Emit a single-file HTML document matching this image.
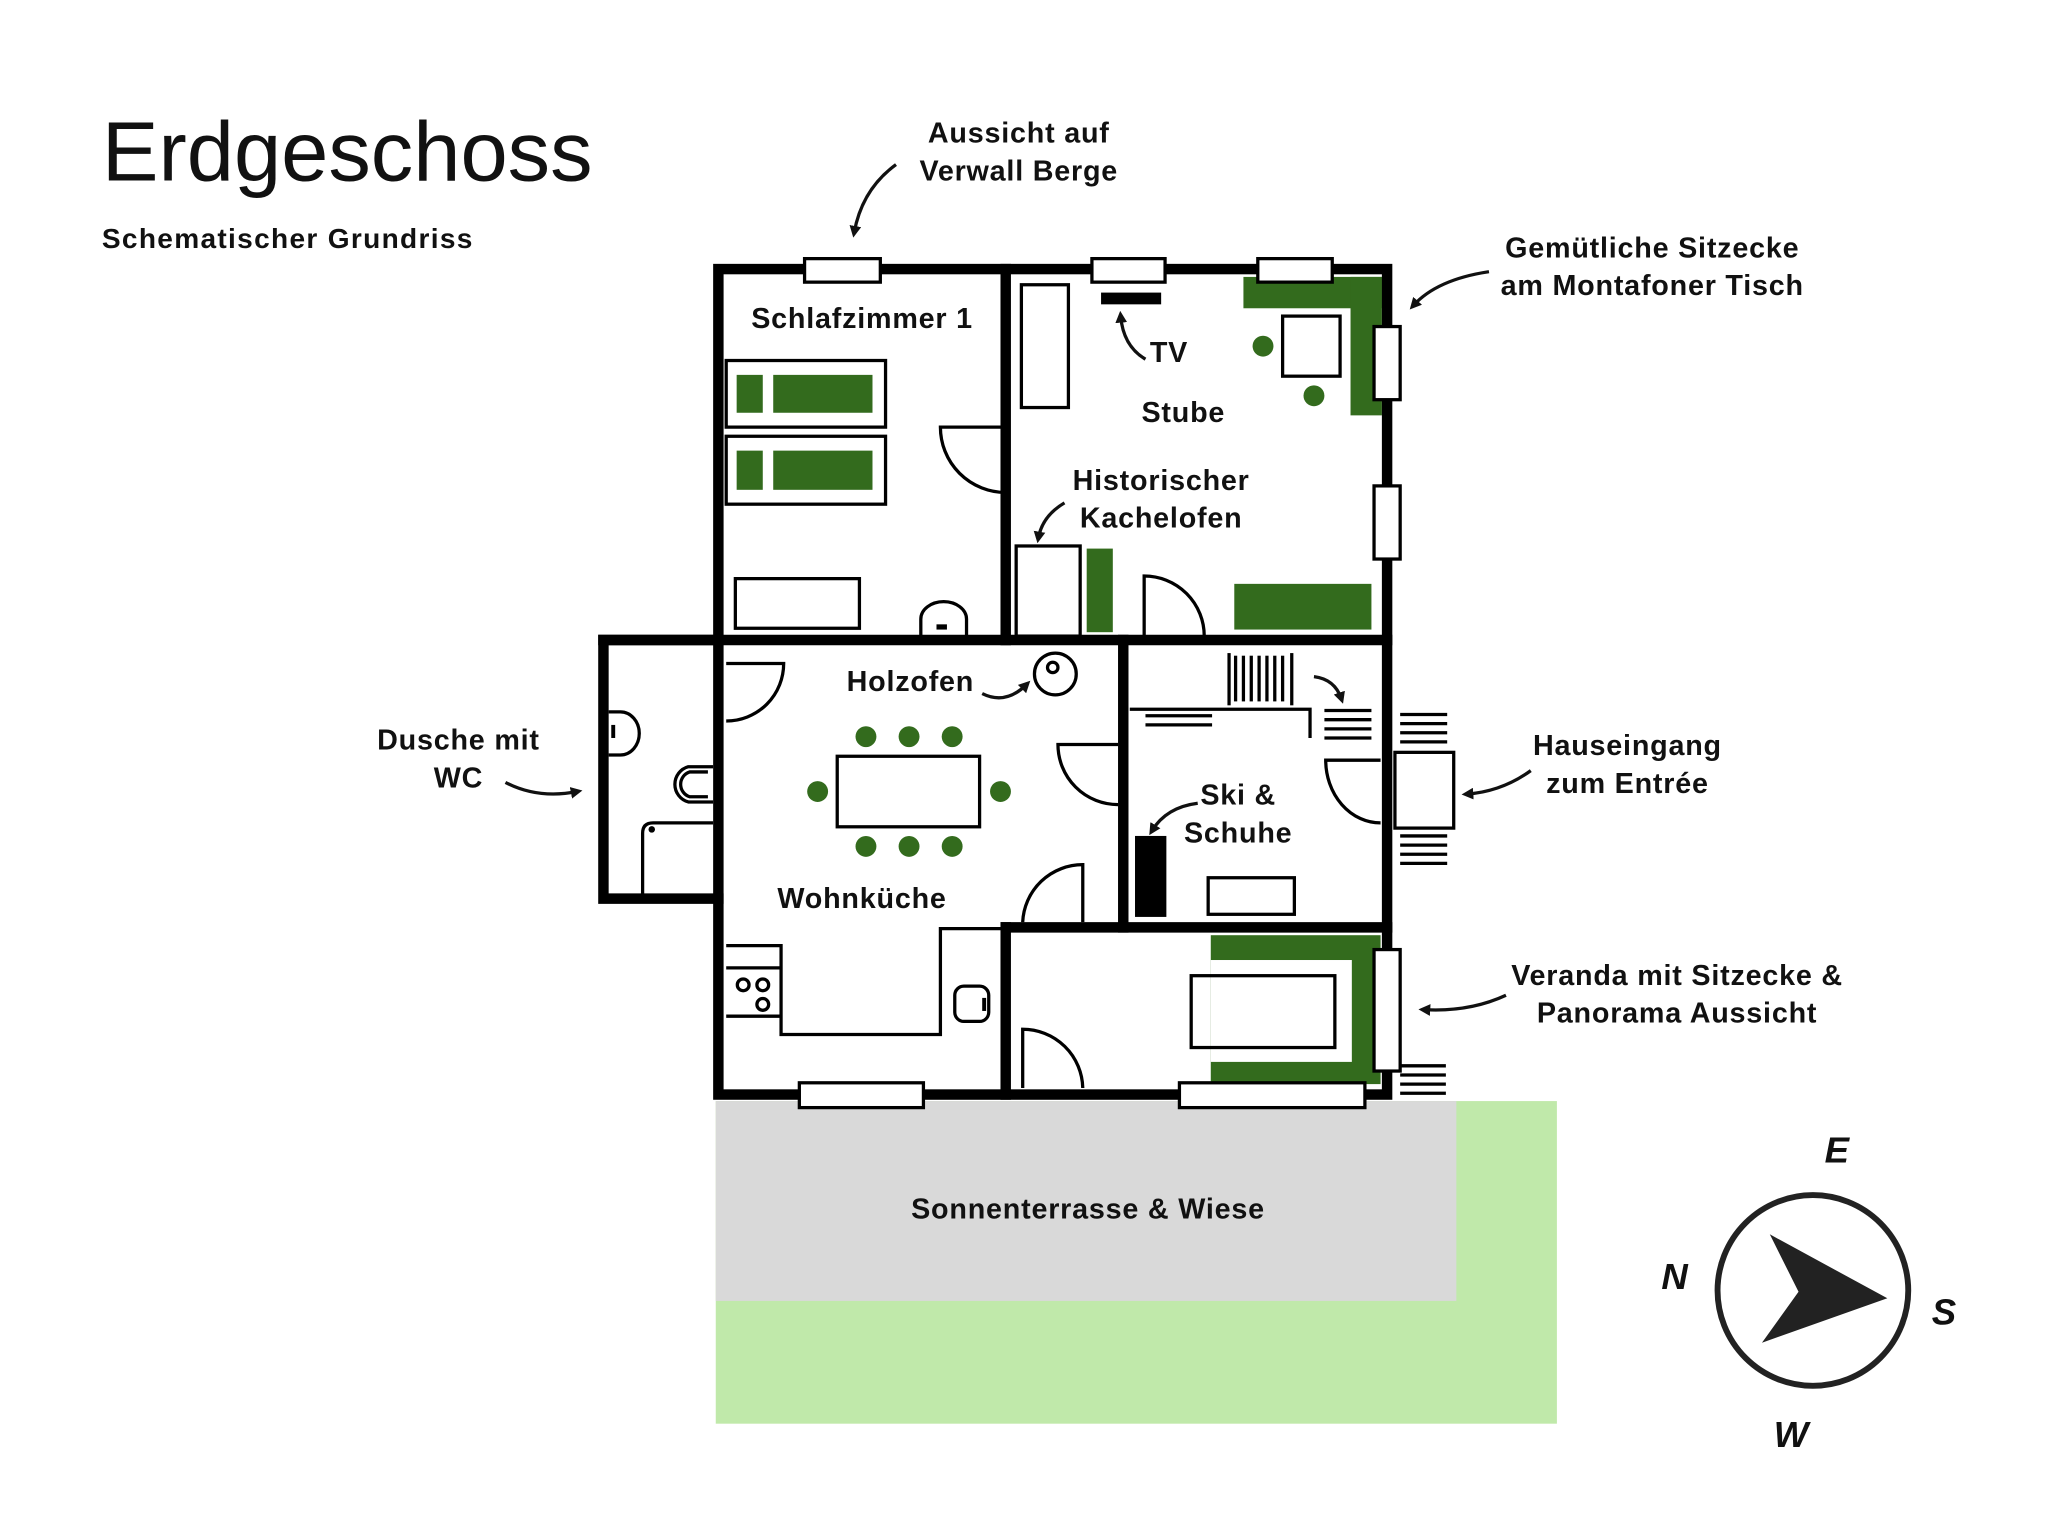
<!DOCTYPE html>
<html><head><meta charset="utf-8"><style>
html,body{margin:0;padding:0;background:#fff}
svg{display:block}
text{font-family:"Liberation Sans",sans-serif;font-weight:bold;fill:#111}
</style></head><body>
<svg width="2048" height="1538" viewBox="0 0 1568 1177.5" xmlns="http://www.w3.org/2000/svg">
<defs><marker id="ah" markerWidth="9" markerHeight="9" refX="5" refY="4.5" orient="auto" markerUnits="userSpaceOnUse"><path d="M0,0 L9,4.5 L0,9 Z" fill="#111"/></marker></defs>
<rect width="1568" height="1178" fill="#fff"/>
<!-- terrace -->
<rect x="548" y="843" width="644" height="247" fill="#c0e9aa"/>
<rect x="548" y="843" width="567" height="153" fill="#d9d9d9"/>
<!-- green furniture -->
<g fill="#336b1d">
<rect x="952" y="212" width="106" height="24"/><rect x="1034" y="212" width="24" height="106"/>
<rect x="564" y="287" width="20" height="29"/><rect x="592" y="287" width="76" height="29"/>
<rect x="564" y="345" width="20" height="30"/><rect x="592" y="345" width="76" height="30"/>
<rect x="832" y="420" width="20" height="64"/><rect x="945" y="447" width="105" height="35"/>
<rect x="927" y="716" width="130" height="114"/>
<circle cx="967" cy="265" r="8"/><circle cx="1006" cy="303" r="8"/>
<circle cx="663" cy="564" r="8"/><circle cx="696" cy="564" r="8"/><circle cx="729" cy="564" r="8"/>
<circle cx="663" cy="648" r="8"/><circle cx="696" cy="648" r="8"/><circle cx="729" cy="648" r="8"/>
<circle cx="626" cy="606" r="8"/><circle cx="766" cy="606" r="8"/>
</g>
<rect x="927" y="735" width="108" height="78" fill="#fff"/>
<!-- walls -->
<g fill="none" stroke="#000" stroke-width="8" stroke-linecap="square">
<rect x="550" y="206" width="512" height="632"/>
<line x1="770" y1="206" x2="770" y2="490"/>
<line x1="462" y1="490" x2="1062" y2="490"/>
<polyline points="550,490 462,490 462,688 550,688"/>
<line x1="860" y1="490" x2="860" y2="710"/>
<line x1="770" y1="710" x2="1062" y2="710"/>
<line x1="770" y1="710" x2="770" y2="838"/>
</g>
<!-- windows -->
<g fill="#fff" stroke="#000" stroke-width="2.5">
<rect x="616" y="198" width="58" height="18"/><rect x="836" y="198" width="56" height="18"/><rect x="963" y="198" width="57" height="18"/>
<rect x="1052" y="250" width="20" height="56"/><rect x="1052" y="372" width="20" height="56"/><rect x="1052" y="727" width="20" height="93"/>
<rect x="612" y="829" width="95" height="19"/><rect x="903" y="829" width="142" height="19"/>
</g>
<!-- furniture outlines -->
<g fill="none" stroke="#000" stroke-width="2.5">
<rect x="556" y="276" width="122" height="51"/><rect x="556" y="334" width="122" height="52"/>
<rect x="563" y="443" width="95" height="38"/>
<path d="M705,487 V474 A17,13 0 0 1 740,474 V487"/>
<path d="M770,327 H720 A50,50 0 0 0 770,377"/>
<rect x="782" y="218" width="36" height="94"/>
<rect x="982" y="242" width="44" height="46"/>
<rect x="778" y="418" width="49" height="69"/>
<path d="M876,487 V441 A46,46 0 0 1 922,487"/>
<path d="M556,508 H600 A44,44 0 0 1 556,552"/>
<rect x="641" y="579" width="109" height="54"/>
<circle cx="808" cy="516" r="16"/><circle cx="806" cy="511" r="4"/>
<path d="M856,570 H810 A46,46 0 0 0 856,616"/>
<path d="M829,706 V662 A46,46 0 0 0 783,706"/>
<polyline points="556,724 598,724 598,792 720,792 720,711 766,711"/>
<line x1="556" y1="741" x2="598" y2="741"/><line x1="556" y1="778" x2="598" y2="778"/>
<circle cx="569" cy="754" r="4.5"/><circle cx="584" cy="754" r="4.5"/><circle cx="584" cy="769" r="4.5"/>
<rect x="731" y="755" width="26" height="27" rx="7"/>
<path d="M466,545 H475 A14,16 0 0 1 475,578 H466"/>
<path d="M546,587 H527 A14,14 0 0 0 527,614 H546"/><path d="M542,591 H528 A10,10 0 0 0 528,610 H542"/>
<path d="M546,630 H500 Q492,630 492,638 V686"/>
<rect x="912" y="747" width="110" height="55"/>
<path d="M783,833 V788 A46,46 0 0 1 829,833"/>
<path d="M1057,582 H1015 A42,48 0 0 0 1057,630"/>
<rect x="925" y="672" width="66" height="28"/>
<polyline points="865,543 1003,543 1003,565"/>
<line x1="941" y1="500" x2="941" y2="540"/><line x1="989" y1="500" x2="989" y2="540"/>
<rect x="1068" y="576" width="45" height="58"/>
</g>
<g fill="#000">
<rect x="717" y="478" width="8" height="4"/><rect x="468" y="555" width="3" height="10"/><circle cx="499" cy="635" r="2.5"/><rect x="752" y="764" width="3" height="10"/>
</g>
<g stroke="#000" stroke-width="2.5">
<line x1="946" y1="502" x2="946" y2="537"/><line x1="952" y1="502" x2="952" y2="537"/><line x1="958" y1="502" x2="958" y2="537"/><line x1="964" y1="502" x2="964" y2="537"/><line x1="970" y1="502" x2="970" y2="537"/><line x1="976" y1="502" x2="976" y2="537"/><line x1="982" y1="502" x2="982" y2="537"/>
<line x1="1014" y1="544" x2="1050" y2="544"/><line x1="1014" y1="551" x2="1050" y2="551"/><line x1="1014" y1="558" x2="1050" y2="558"/><line x1="1014" y1="565" x2="1050" y2="565"/>
<line x1="877" y1="548" x2="928" y2="548"/><line x1="877" y1="555" x2="928" y2="555"/>
<line x1="1072" y1="547" x2="1108" y2="547"/><line x1="1072" y1="554" x2="1108" y2="554"/><line x1="1072" y1="561" x2="1108" y2="561"/><line x1="1072" y1="568" x2="1108" y2="568"/>
<line x1="1072" y1="640" x2="1108" y2="640"/><line x1="1072" y1="647" x2="1108" y2="647"/><line x1="1072" y1="654" x2="1108" y2="654"/><line x1="1072" y1="661" x2="1108" y2="661"/>
<line x1="1072" y1="816" x2="1107" y2="816"/><line x1="1072" y1="823" x2="1107" y2="823"/><line x1="1072" y1="830" x2="1107" y2="830"/><line x1="1072" y1="837" x2="1107" y2="837"/>
</g>
<rect x="843" y="224" width="46" height="9" fill="#000"/>
<rect x="869" y="640" width="24" height="62" fill="#000"/>
<!-- arrows -->
<g fill="none" stroke="#111" stroke-width="2.5" marker-end="url(#ah)">
<path d="M686,126 Q660,145 654,178"/>
<path d="M1140,208 Q1100,214 1082,234"/>
<path d="M877,275 Q860,265 858,242"/>
<path d="M815,385 Q798,395 795,412"/>
<path d="M752,531 Q770,540 786,524"/>
<path d="M1006,518 Q1022,520 1027,535"/>
<path d="M917,615 Q893,618 882,636"/>
<path d="M387,599 Q412,612 442,606"/>
<path d="M1172,590 Q1150,606 1123,608"/>
<path d="M1153,762 Q1125,775 1090,773"/>
</g>
<!-- compass -->
<circle cx="1388" cy="988" r="73" fill="none" stroke="#222" stroke-width="4.5"/>
<polygon points="1355,945 1445,994 1349,1028 1377,989" fill="#222"/>
<g font-style="italic" font-size="28">
<text x="1397" y="890">E</text><text x="1272" y="987">N</text><text x="1479" y="1014">S</text><text x="1358" y="1108">W</text>
</g>
<!-- texts -->
<text x="78" y="138" font-size="65" style="font-weight:normal">Erdgeschoss</text>
<text x="78" y="190" font-size="21.5" letter-spacing="1">Schematischer Grundriss</text>
<g font-size="22" text-anchor="middle" letter-spacing="0.6">
<text x="780" y="109">Aussicht auf</text><text x="780" y="138">Verwall Berge</text>
<text x="1265" y="197">Gemütliche Sitzecke</text><text x="1265" y="226">am Montafoner Tisch</text>
<text x="660" y="251">Schlafzimmer 1</text>
<text x="895" y="277">TV</text>
<text x="906" y="323">Stube</text>
<text x="889" y="375">Historischer</text><text x="889" y="404">Kachelofen</text>
<text x="697" y="529">Holzofen</text>
<text x="351" y="574">Dusche mit</text><text x="351" y="603">WC</text>
<text x="948" y="616">Ski &amp;</text><text x="948" y="645">Schuhe</text>
<text x="1246" y="578">Hauseingang</text><text x="1246" y="607">zum Entrée</text>
<text x="660" y="695">Wohnküche</text>
<text x="1284" y="754">Veranda mit Sitzecke &amp;</text><text x="1284" y="783">Panorama Aussicht</text>
<text x="833" y="933">Sonnenterrasse &amp; Wiese</text>
</g>
</svg>
</body></html>
